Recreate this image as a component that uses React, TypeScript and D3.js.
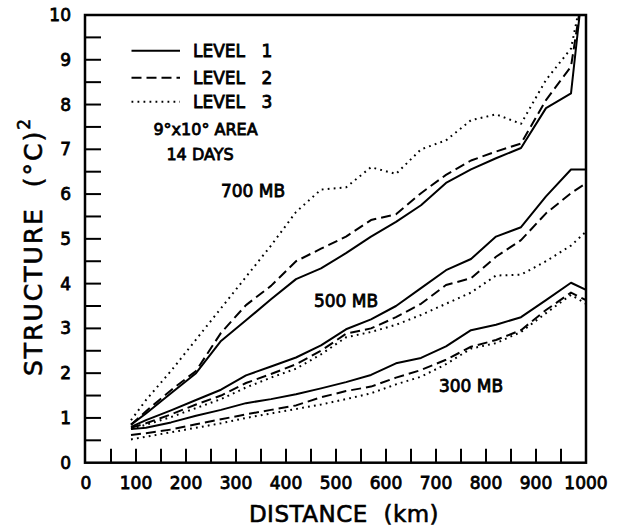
import React from "react";
import * as d3 from "d3";

const distances = [90, 120, 170, 220, 270, 320, 370, 420, 470, 520, 570, 620, 670, 720, 770, 820, 870, 920, 970, 1000];

const mb700Level1 = [0.85, 1.1, 1.55, 2.0, 2.72, 3.18, 3.65, 4.1, 4.34, 4.68, 5.05, 5.38, 5.75, 6.25, 6.55, 6.8, 7.03, 7.92, 8.25, 11.3];
const mb700Level2 = [0.85, 1.15, 1.62, 2.05, 2.9, 3.52, 3.95, 4.5, 4.78, 5.05, 5.42, 5.55, 6.02, 6.43, 6.75, 6.95, 7.13, 8.1, 8.85, 11.0];
const mb700Level3 = [0.95, 1.4, 2.05, 2.75, 3.45, 4.15, 4.85, 5.6, 6.1, 6.15, 6.6, 6.45, 7.0, 7.2, 7.65, 7.78, 7.57, 8.55, 9.25, 10.9];

const mb500Level1 = [0.8, 0.95, 1.17, 1.4, 1.63, 1.95, 2.15, 2.35, 2.62, 2.98, 3.2, 3.5, 3.9, 4.3, 4.55, 5.05, 5.26, 5.95, 6.55, 6.55];
const mb500Level2 = [0.78, 0.88, 1.08, 1.3, 1.5, 1.78, 1.98, 2.2, 2.5, 2.88, 3.0, 3.25, 3.55, 3.97, 4.12, 4.6, 4.97, 5.57, 6.02, 6.24];
const mb500Level3 = [0.75, 0.85, 1.02, 1.22, 1.42, 1.68, 1.9, 2.1, 2.42, 2.8, 2.92, 3.08, 3.3, 3.55, 3.8, 4.18, 4.2, 4.5, 4.85, 5.16];

const mb300Level1 = [0.75, 0.78, 0.9, 1.05, 1.18, 1.33, 1.42, 1.53, 1.66, 1.8, 1.96, 2.22, 2.34, 2.6, 2.96, 3.08, 3.25, 3.63, 4.02, 3.86];
const mb300Level2 = [0.62, 0.66, 0.74, 0.86, 0.97, 1.08, 1.18, 1.28, 1.46, 1.6, 1.7, 1.9, 2.07, 2.3, 2.59, 2.74, 2.96, 3.41, 3.8, 3.63];
const mb300Level3 = [0.52, 0.58, 0.68, 0.78, 0.88, 1.0, 1.1, 1.2, 1.3, 1.42, 1.55, 1.75, 1.92, 2.2, 2.55, 2.67, 2.92, 3.34, 3.75, 3.55];

const xTickLabels = [0, 100, 200, 300, 400, 500, 600, 700, 800, 900, 1000];
const yTickLabels = [0, 1, 2, 3, 4, 5, 6, 7, 8, 9, 10];
const legendLabels = ["LEVEL", "LEVEL", "LEVEL"];
const legendNumbers = ["1", "2", "3"];
const levelLabels = ["700 MB", "500 MB", "300 MB"];

const DASH = ["", "10 5", "1.8 4.2"];

export default function App() {
  const left = 86, right = 586, top = 15, bottom = 462.7;
  const x = d3.scaleLinear().domain([0, 1000]).range([left, right]);
  const y = d3.scaleLinear().domain([0, 10]).range([bottom, top]);
  const line = d3.line<number>().x((_, i) => x(distances[i])).y((d) => y(d));

  const series = [
    { v: mb700Level1, s: 0 }, { v: mb700Level2, s: 1 }, { v: mb700Level3, s: 2 },
    { v: mb500Level1, s: 0 }, { v: mb500Level2, s: 1 }, { v: mb500Level3, s: 2 },
    { v: mb300Level1, s: 0 }, { v: mb300Level2, s: 1 }, { v: mb300Level3, s: 2 },
  ];

  const xMinor = d3.range(50, 1000, 50);
  const yMinor = d3.range(0.5, 10, 0.5);
  const font = "'DejaVu Sans', sans-serif";

  return (
    <svg width={626} height={527} style={{ position: "absolute", left: 0, top: 0, background: "#fff" }}>
      <defs>
        <clipPath id="plot">
          <rect x={left} y={top} width={right - left} height={bottom - top} />
        </clipPath>
      </defs>
      <rect x={0} y={0} width={626} height={527} fill="#fff" />
      {xMinor.map((t) => (
        <line key={"xt" + t} x1={x(t)} x2={x(t)} y1={bottom} y2={bottom - 14} stroke="#000" strokeWidth={2} />
      ))}
      {yMinor.map((t) => (
        <line key={"yt" + t} x1={left} x2={left + 15} y1={y(t)} y2={y(t)} stroke="#000" strokeWidth={2} />
      ))}
      <rect x={left - 1} y={top} width={right - left + 1} height={bottom - top} fill="none" stroke="#000" strokeWidth={2.5} />
      <g clipPath="url(#plot)">
        {series.map((d, i) => (
          <path key={i} d={line(d.v) || ""} fill="none" stroke="#000" strokeWidth={2} strokeDasharray={DASH[d.s]} strokeLinejoin="round" />
        ))}
      </g>
      <g fontFamily={font} fontSize={17} fill="#000" stroke="#000" strokeWidth={0.8}>
        {xTickLabels.map((t) => (
          <text key={"xl" + t} x={x(t)} y={488.5} textAnchor="middle">{t}</text>
        ))}
        {yTickLabels.map((t) => (
          <text key={"yl" + t} x={71} y={y(t) + 6} textAnchor="end">{t}</text>
        ))}
      </g>
      {legendLabels.map((lab, i) => {
        const ly = [50.7, 77.7, 101.7][i];
        return (
          <g key={"lg" + i} fontFamily={font} fontSize={17} stroke="#000" strokeWidth={0.8}>
            <line x1={131.5} x2={180} y1={ly} y2={ly} stroke="#000" strokeWidth={2} strokeDasharray={DASH[i]} />
            <text x={193} y={ly + 6.5}>{lab}</text>
            <text x={267} y={ly + 6.5} textAnchor="middle">{legendNumbers[i]}</text>
          </g>
        );
      })}
      <g fontFamily={font} fontSize={16} stroke="#000" strokeWidth={0.8}>
        <text x={205.5} y={135} textAnchor="middle">9°x10° AREA</text>
        <text x={200} y={160} textAnchor="middle">14 DAYS</text>
      </g>
      <g fontFamily={font} fontSize={17} stroke="#000" strokeWidth={0.8}>
        <text x={253} y={197} textAnchor="middle">{levelLabels[0]}</text>
        <text x={346} y={307} textAnchor="middle">{levelLabels[1]}</text>
        <text x={471} y={392} textAnchor="middle">{levelLabels[2]}</text>
      </g>
      <text x={344} y={521.5} textAnchor="middle" fontFamily={font} fontSize={23} letterSpacing={0.5} stroke="#000" strokeWidth={0.6}>
        DISTANCE{"\u00a0\u00a0"}(km)
      </text>
      <text transform="translate(42,246.5) rotate(-90)" textAnchor="middle" fontFamily={font} fontSize={25} letterSpacing={2} stroke="#000" strokeWidth={0.6}>
        STRUCTURE{"\u00a0\u00a0"}(°C)<tspan fontSize={17} dy={-12}>2</tspan>
      </text>
    </svg>
  );
}
